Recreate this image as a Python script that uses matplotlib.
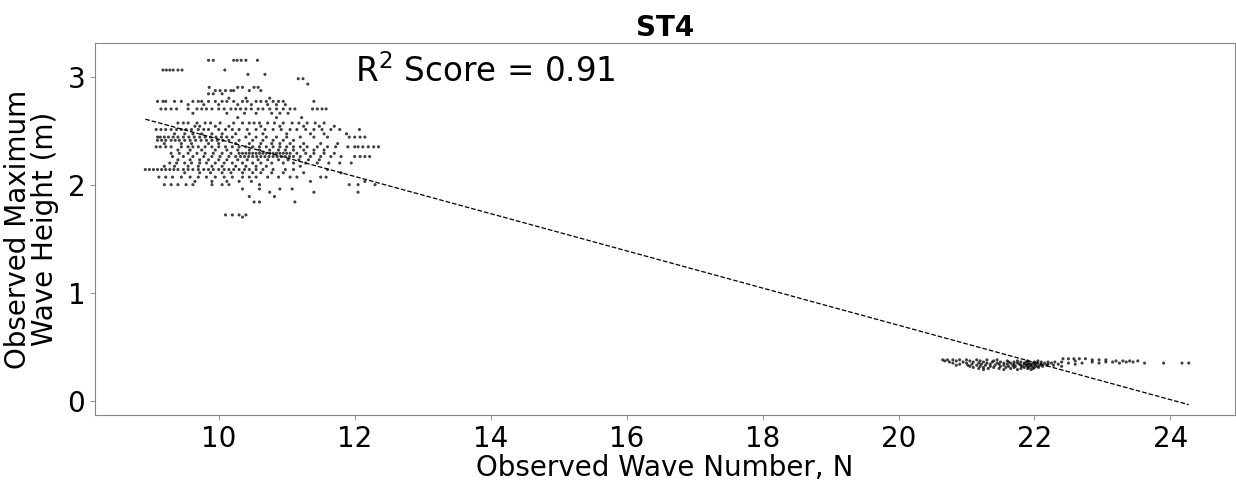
import numpy as np
import matplotlib
matplotlib.use('Agg')
import matplotlib.pyplot as plt

# fitted regression line
fit_slope = -0.172
fit_intercept = 4.14
r2_score = 0.91

# low wave number cluster: y levels and the x values on each level
low_levels = [3.15, 3.06, 3.02, 2.98, 2.93, 2.90, 2.87, 2.84, 2.80, 2.77,
              2.74, 2.70, 2.66, 2.62, 2.57, 2.54, 2.51, 2.47, 2.44, 2.41,
              2.38, 2.35, 2.32, 2.29, 2.26, 2.23, 2.20, 2.17, 2.14, 2.11,
              2.07, 2.03, 2.00, 1.96, 1.93, 1.89, 1.84, 1.72, 1.70]
low_rows = [
    [9.85, 9.92, 10.22, 10.27, 10.33, 10.40, 10.57],
    [9.18, 9.23, 9.28, 9.33, 9.40, 9.46, 10.09],
    [10.43, 10.68],
    [11.17, 11.24],
    [11.31],
    [9.86, 10.28, 10.35, 10.52, 10.58],
    [9.95, 10.02, 10.10, 10.18, 10.22, 10.45, 10.62],
    [9.85, 9.92, 10.05],
    [10.15, 10.40, 10.75],
    [9.10, 9.18, 9.22, 9.35, 9.45, 9.62, 9.70, 9.75, 9.85, 9.95, 10.05, 10.12,
     10.22, 10.35, 10.42, 10.55, 10.62, 10.70, 10.80, 10.88, 10.95, 11.40],
    [9.55, 9.78, 10.00, 10.28, 10.48, 10.72, 10.85, 10.98],
    [9.15, 9.22, 9.30, 9.38, 9.55, 9.68, 9.75, 9.82, 9.90, 10.00, 10.08, 10.18,
     10.25, 10.32, 10.40, 10.48, 10.58, 10.65, 10.75, 10.85, 10.95, 11.05,
     11.12, 11.38, 11.45, 11.52, 11.58],
    [9.62, 10.12, 10.38, 10.55, 10.78, 10.90, 11.02],
    [10.28, 10.85, 11.22],
    [9.40, 9.48, 9.55, 9.68, 9.80, 9.88, 10.02, 10.22, 10.35, 10.45, 10.52,
     10.60, 10.72, 10.82, 10.95, 11.08, 11.18, 11.30, 11.42, 11.55],
    [9.65, 9.72, 9.95, 10.15, 10.62, 10.90, 11.25, 11.48, 11.70],
    [9.08, 9.15, 9.22, 9.30, 9.38, 9.45, 9.52, 9.60, 9.70, 9.78, 9.85, 10.00,
     10.10, 10.20, 10.30, 10.42, 10.55, 10.68, 10.80, 10.92, 11.05, 11.15,
     11.28, 11.40, 11.52, 11.65, 11.78, 12.07],
    [9.35, 9.50, 9.62, 9.75, 9.90, 10.05, 10.25, 10.45, 10.65, 11.00, 11.35,
     11.55, 11.88],
    [9.10, 9.14, 9.20, 9.26, 9.33, 9.40, 9.48, 9.56, 9.64, 9.72, 9.80, 9.88,
     9.96, 10.04, 10.12, 10.20, 10.40, 10.55, 10.70, 10.85, 11.00, 11.20,
     11.40, 11.60, 11.92, 12.00, 12.08, 12.15],
    [9.10, 9.16, 9.22, 9.30, 9.36, 9.42, 9.50, 9.58, 9.66, 9.74, 9.82, 9.90,
     9.98, 10.06, 10.15, 10.30, 10.50, 10.65, 10.80, 10.95, 11.10],
    [9.20, 9.45, 9.60, 9.85, 10.00, 10.25, 10.45, 10.62, 10.78, 10.90, 11.05,
     11.25, 11.50, 11.75],
    [9.08, 9.14, 9.22, 9.30, 9.45, 9.55, 9.62, 9.70, 9.80, 9.90, 10.00, 10.10,
     10.20, 10.30, 10.40, 10.50, 10.60, 10.70, 10.80, 10.90, 11.00, 11.10,
     11.20, 11.30, 11.45, 11.60, 11.72, 11.90, 12.00, 12.05, 12.12, 12.20,
     12.28, 12.35],
    [9.40, 9.58, 9.75, 9.95, 10.12, 10.28, 10.45, 10.60, 10.75, 10.88, 10.98,
     11.10, 11.25, 11.40, 11.55],
    [9.30, 9.42, 9.55, 9.68, 9.80, 9.92, 10.05, 10.18, 10.30, 10.35, 10.40,
     10.45, 10.50, 10.55, 10.60, 10.65, 10.70, 10.75, 10.80, 10.85, 10.90,
     10.95, 11.00, 11.05, 11.15, 11.28, 11.40, 11.55, 11.70],
    [9.32, 9.48, 9.62, 9.78, 9.90, 10.02, 10.15, 10.25, 10.32, 10.38, 10.44,
     10.50, 10.56, 10.62, 10.68, 10.74, 10.80, 10.86, 10.92, 10.98, 11.04,
     11.10, 11.20, 11.35, 11.50, 11.65, 11.80, 12.00, 12.08, 12.15, 12.22],
    [9.40, 9.58, 9.72, 9.85, 10.00, 10.12, 10.28, 10.42, 10.58, 10.72, 10.88,
     11.02, 11.18, 11.32, 11.48],
    [9.28, 9.38, 9.50, 9.60, 9.72, 9.82, 9.95, 10.08, 10.20, 10.35, 10.50,
     10.62, 10.78, 10.95, 11.10, 11.28, 11.45, 11.62, 11.78, 11.95],
    [9.20, 9.35, 9.55, 9.70, 9.90, 10.05, 10.25, 10.40, 10.55, 10.70, 11.20],
    [8.92, 8.98, 9.04, 9.10, 9.16, 9.22, 9.28, 9.34, 9.40, 9.48, 9.55, 9.62,
     9.70, 9.78, 9.85, 9.92, 10.00, 10.08, 10.15, 10.22, 10.30, 10.38, 10.45,
     10.55, 10.65, 10.80, 10.98, 11.10, 11.60],
    [9.50, 9.72, 9.88, 10.05, 10.18, 10.35, 10.50, 10.62, 10.78, 10.95, 11.25,
     11.80],
    [9.12, 9.22, 9.32, 9.45, 9.58, 9.70, 9.82, 9.95, 10.08, 10.20, 10.35,
     10.45, 10.55, 10.72, 10.88, 11.05, 11.15, 11.50, 11.58],
    [9.65, 9.90, 10.12, 10.30, 10.48, 11.35, 12.15],
    [9.20, 9.30, 9.40, 9.52, 9.62, 9.90, 10.05, 10.15, 10.60, 11.92, 12.05,
     12.30],
    [10.35, 10.60, 10.90, 11.08],
    [10.75, 11.40, 12.05],
    [10.45, 10.82],
    [10.52, 10.60, 11.12],
    [10.10, 10.20, 10.30, 10.40],
    [10.35],
]

# high wave number cluster
high_levels = [0.39, 0.38, 0.37, 0.36, 0.35, 0.34, 0.33, 0.32, 0.31, 0.30, 0.29]
high_rows = [
    [22.42, 22.50, 22.58, 22.66, 22.75],
    [20.65, 20.72, 20.80, 20.90, 21.00, 21.15, 21.30, 21.45, 22.85, 22.95,
     23.05],
    [20.68, 20.85, 21.05, 21.20, 21.40, 21.60, 21.75, 21.90, 22.05, 22.60,
     23.20, 23.30, 23.40, 23.52],
    [20.75, 20.95, 21.10, 21.25, 21.38, 21.50, 21.62, 21.70, 21.80, 21.88,
     22.00, 22.10, 22.20, 22.30, 22.40, 22.85, 23.05, 23.15, 23.35, 23.45],
    [20.80, 21.00, 21.18, 21.30, 21.45, 21.55, 21.65, 21.75, 21.85, 21.92,
     21.98, 22.05, 22.15, 22.25, 22.50, 22.70, 22.95, 23.25, 23.62, 23.90,
     24.17, 24.27],
    [20.90, 21.08, 21.22, 21.35, 21.48, 21.60, 21.70, 21.78, 21.85, 21.90,
     21.95, 22.02, 22.10, 22.20, 22.35, 22.60],
    [20.85, 21.02, 21.15, 21.28, 21.42, 21.55, 21.68, 21.80, 21.88, 21.94,
     22.00, 22.08, 22.18, 22.28],
    [21.05, 21.20, 21.35, 21.50, 21.62, 21.72, 21.82, 21.90, 21.96, 22.04,
     22.12, 22.40],
    [21.10, 21.25, 21.40, 21.58, 21.70, 21.85, 21.92, 22.00, 22.06],
    [21.18, 21.32, 21.48, 21.65, 21.80, 21.90, 21.98],
    [21.25, 21.55, 21.75, 21.95],
]


def flatten(levels, rows):
    xs, ys = [], []
    for lev, row in zip(levels, rows):
        xs.extend(row)
        ys.extend([lev] * len(row))
    return xs, ys


def main():
    x_low, y_low = flatten(low_levels, low_rows)
    x_high, y_high = flatten(high_levels, high_rows)
    x_values = np.array(x_low + x_high)
    y_values = np.array(y_low + y_high)

    fig = plt.figure(figsize=(12.36, 4.84), dpi=100)
    ax = fig.add_axes([95 / 1236, 1 - 415 / 484, 1140 / 1236, 372 / 484])

    ax.scatter(x_values, y_values, s=5, c='k', edgecolors='none', alpha=0.75)

    line_x = np.sort(x_values)
    ax.plot(line_x, fit_slope * line_x + fit_intercept, 'k--', lw=0.9)

    ax.text(12.0, 2.95, '$\\mathregular{R^2}$ Score = %.2f' % r2_score, fontsize=23.5)

    ax.set_xlim(8.18, 24.95)
    ax.set_ylim(-0.13, 3.31)
    ax.set_xticks([10, 12, 14, 16, 18, 20, 22, 24])
    ax.set_yticks([0, 1, 2, 3])
    ax.tick_params(labelsize=20, color='#999999', length=3.5)
    for sp in ax.spines.values():
        sp.set_color('#888888')
        sp.set_linewidth(0.8)

    ax.set_title('ST4', fontsize=20, fontweight='bold', pad=5)
    ax.set_xlabel('Observed Wave Number, N', fontsize=20, labelpad=1)
    ax.set_ylabel('Observed Maximum\nWave Height (m)', fontsize=20, labelpad=6,
                  linespacing=0.95)

    fig.savefig('out.png', dpi=100)
    plt.close(fig)


if __name__ == '__main__':
    main()
